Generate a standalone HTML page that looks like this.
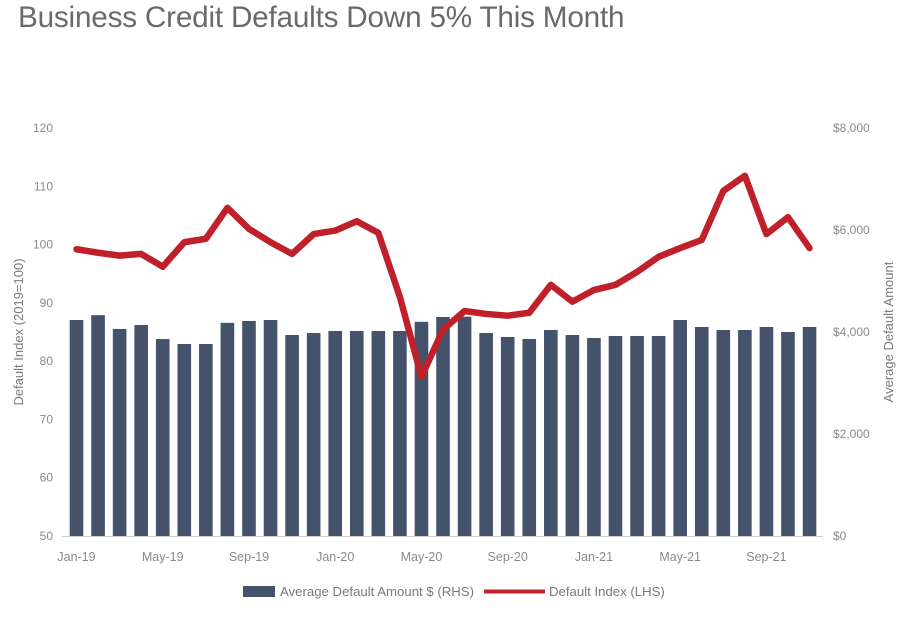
<!DOCTYPE html>
<html><head><meta charset="utf-8"><style>
body{margin:0;background:#fff;width:924px;height:626px;overflow:hidden;font-family:"Liberation Sans",sans-serif}
#title{position:absolute;left:18px;top:1px;font-size:29.7px;color:#6a6a6a;letter-spacing:-0.2px}
</style></head><body>
<div id="title">Business Credit Defaults Down 5% This Month</div>
<svg id="chart" width="924" height="626" style="position:absolute;left:0;top:0"></svg>
<script>
const months=["Jan-19","Feb-19","Mar-19","Apr-19","May-19","Jun-19","Jul-19","Aug-19","Sep-19","Oct-19","Nov-19","Dec-19","Jan-20","Feb-20","Mar-20","Apr-20","May-20","Jun-20","Jul-20","Aug-20","Sep-20","Oct-20","Nov-20","Dec-20","Jan-21","Feb-21","Mar-21","Apr-21","May-21","Jun-21","Jul-21","Aug-21","Sep-21","Oct-21","Nov-21"];
const amounts=[4235,4330,4060,4137,3862,3765,3765,4180,4216,4235,3941,3980,4020,4020,4020,4020,4200,4294,4300,3980,3902,3863,4039,3941,3882,3922,3922,3922,4235,4098,4039,4039,4098,4000,4098];
const index=[99.2,98.6,98.1,98.4,96.2,100.4,101.0,106.3,102.7,100.4,98.4,101.8,102.4,104.0,102.0,91.0,77.3,85.4,88.6,88.1,87.8,88.3,93.1,90.2,92.2,93.1,95.3,97.9,99.4,100.8,109.2,111.8,101.8,104.7,99.4];
const leftTicks=[50,60,70,80,90,100,110,120];
const rightTicks=[0,2000,4000,6000,8000];
const xLabelEvery=4;
const svg=document.getElementById('chart');const NS='http://www.w3.org/2000/svg';
const x0=76.5,dx=21.56,yB=536,yT=128;
const xs=i=>x0+i*dx;
const yL=v=>yB-(v-50)/70*(yB-yT);
const yR=v=>yB-v/8000*(yB-yT);
function mk(t,a){const e=document.createElementNS(NS,t);for(const k in a)e.setAttribute(k,a[k]);svg.appendChild(e);return e;}
amounts.forEach((v,i)=>{const r=mk('rect',{x:xs(i)-6.8,y:yR(v),width:13.6,height:yB-yR(v),fill:'#44526b'});

});
const ax=mk('line',{x1:62,x2:823,y1:yB+0.5,y2:yB+0.5,stroke:'#d0d0d0'});


const pl=mk('polyline',{points:index.map((v,i)=>xs(i)+','+yL(v)).join(' '),fill:'none',stroke:'#c0202a','stroke-width':6.5,'stroke-linejoin':'round','stroke-linecap':'round'});


leftTicks.forEach(v=>{const t=mk('text',{x:53,y:yL(v)+4,'text-anchor':'end','font-size':12,fill:'#8a8a8a'});t.textContent=v;

});
rightTicks.forEach(v=>{const t=mk('text',{x:833,y:yR(v)+4,'font-size':12,fill:'#8a8a8a'});t.textContent='$'+v.toLocaleString('en-US');

});
months.forEach((m,i)=>{if(i%xLabelEvery)return;const t=mk('text',{x:xs(i),y:561,'text-anchor':'middle','font-size':12.5,fill:'#8a8a8a'});t.textContent=m;

});
const lt=mk('text',{x:0,y:0,transform:'translate(23,332) rotate(-90)','text-anchor':'middle','font-size':13,fill:'#7a7a7a'});lt.textContent='Default Index (2019=100)';


const rt=mk('text',{x:0,y:0,transform:'translate(893,332) rotate(-90)','text-anchor':'middle','font-size':13,fill:'#7a7a7a'});rt.textContent='Average Default Amount';


const l1=mk('rect',{x:243,y:586,width:32,height:11,fill:'#44526b'});


const l1t=mk('text',{x:280,y:596,'font-size':13.2,fill:'#7a7a7a'});l1t.textContent='Average Default Amount $ (RHS)';


const l2=mk('line',{x1:484,x2:545,y1:591.5,y2:591.5,stroke:'#c0202a','stroke-width':4});


const l2t=mk('text',{x:549,y:596,'font-size':13.2,fill:'#7a7a7a'});l2t.textContent='Default Index (LHS)';


</script>
</body></html>
